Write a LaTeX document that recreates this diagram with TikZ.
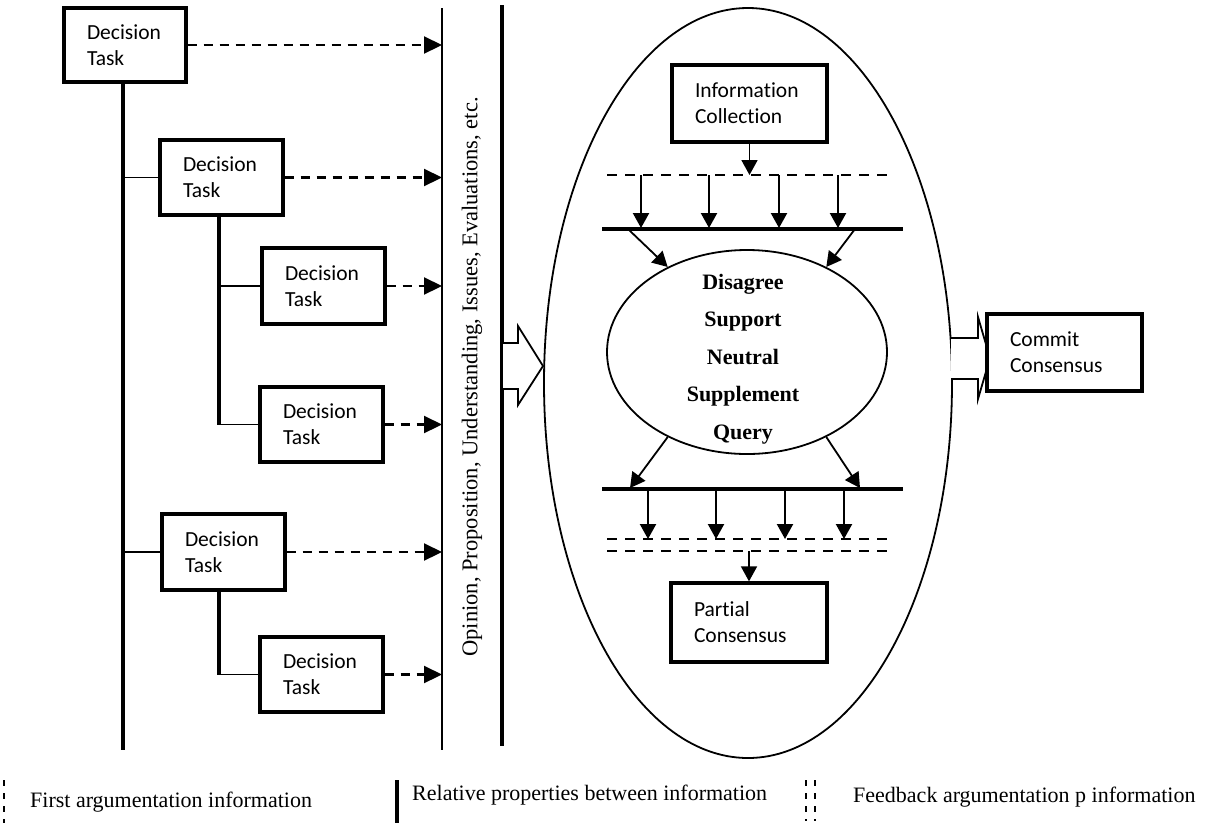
\documentclass[tikz,border=0pt]{standalone}
\usepackage{fontspec}
\setmainfont{Liberation Serif}
\newfontfamily\calib[Ligatures={NoCommon,NoRequired,NoContextual}]{Carlito}
\usetikzlibrary{arrows.meta,shapes.geometric}
\begin{document}
\begin{tikzpicture}[x=1pt,y=-1pt,
  box/.style={draw,line width=3.3pt,fill=white,inner xsep=23pt,inner ysep=0pt,
    align=left,text width=#1-46pt,minimum width=#1,
    font=\calib\fontsize{21.5}{26}\selectfont},
  box/.default=122pt,
  tree/.style={line width=3.3pt},
  branch/.style={line width=1.6pt},
  dasharrow/.style={line width=2.2pt,dash pattern=on 9pt off 7pt,
    -{Triangle[length=18pt,width=17pt]}},
  vline/.style={line width=3.3pt},
  dline/.style={line width=2.2pt,dash pattern=on 10pt off 8pt},
  sline/.style={line width=3.8pt},
  darr/.style={line width=2.2pt,-{Triangle[length=15pt,width=16pt]}},
  thinarr/.style={line width=1.8pt,-{Triangle[length=15pt,width=16pt]}},
  legend/.style={anchor=base west,inner sep=0pt,font=\fontsize{22}{26}\selectfont},
]
\useasboundingbox (0,0) rectangle (1205,823);

% ---- decision task tree ----
\node[box,minimum height=74pt] (B1) at (125,45) {Decision\\Task};
\node[box=123pt,minimum height=75pt] (B2) at (221.5,177.5) {Decision\\Task};
\node[box=123pt,minimum height=76pt] (B3) at (323.5,286) {Decision\\Task};
\node[box=123pt,minimum height=75pt] (B4) at (321.5,424.5) {Decision\\Task};
\node[box=123pt,minimum height=76pt] (B5) at (223.5,552) {Decision\\Task};
\node[box=123pt,minimum height=75pt] (B6) at (321.5,674.5) {Decision\\Task};

\coordinate (spineEnd) at (123,750);
\draw[tree] (B1.south -| spineEnd) -- (spineEnd);
\draw[branch] (B2.west -| spineEnd) -- (B2.west);
\draw[branch] (B5.west -| spineEnd) -- (B5.west);

\coordinate (sub2) at (219,424.5);
\draw[tree] (B2.south -| sub2) -- (sub2);
\draw[branch] (B3.west -| sub2) -- (B3.west);
\draw[branch] (sub2) -- (B4.west);

\coordinate (sub5) at (219,674.5);
\draw[tree] (B5.south -| sub5) -- (sub5);
\draw[branch] (sub5) -- (B6.west);

% ---- two vertical lines ----
\coordinate (L1top) at (442,8);
\coordinate (L1bot) at (442,750);
\coordinate (L2top) at (502,5);
\coordinate (L2bot) at (502,746);
\draw[line width=2.8pt] (L1top) -- (L1bot);
\draw[vline] (L2top) -- (L2bot);

\foreach \b in {B1,B2,B3,B4,B5,B6}
  \draw[dasharrow] (\b.east) -- (\b.east -| L1top);

\node[rotate=90,inner sep=0pt,font=\fontsize{22.5}{27}\selectfont] (opinion) at (472,377)
  {Opinion, Proposition, Understanding, Issues, Evaluations, etc.};

% ---- block arrow into big ellipse ----
\draw[line width=1.8pt,fill=white,line join=miter]
  (503,343) -- (518,343) -- (518,326) -- (543,366) -- (518,405) -- (518,389) -- (503,389);

% ---- big ellipse ----
\node[ellipse,draw,line width=1.8pt,minimum width=408pt,minimum height=750pt,inner sep=0pt] (E) at (748,383) {};

% ---- block arrow out to commit ----
\draw[line width=1.8pt,fill=white,line join=miter]
  (951,338) -- (978,338) -- (978,317) -- (990,358) -- (978,399) -- (978,379) -- (951,379);
\node[box=155pt,minimum height=77pt] (commit) at (1064.5,352.5) {Commit\\Consensus};

% ---- inside ellipse ----
\node[box=155pt,minimum height=77pt] (info) at (749.5,103.5) {Information\\Collection};

\coordinate (D1l) at (607,175);
\coordinate (D1r) at (893,175);
\draw[dline] (D1l) -- (D1r);
\draw[thinarr] (info.south) -- (info.south |- D1l);

\coordinate (S1l) at (602,229);
\coordinate (S1r) at (903,229);
\draw[sline] (S1l) -- (S1r);
\foreach \x in {641,709,779,838}
  \draw[darr] (\x,175) -- (\x,228);

\node[ellipse,draw,line width=1.8pt,minimum width=280pt,minimum height=204pt,inner sep=0pt] (IE) at (747,352) {};
\node[align=center,inner sep=0pt,font=\bfseries\fontsize{22}{37.5}\selectfont] (IEtxt) at (743,359)
  {Disagree\\Support\\Neutral\\Supplement\\Query};

\coordinate (S1a) at (628,229);
\coordinate (S1b) at (855,229);
\draw[thinarr] (S1a) -- (IE.133);
\draw[thinarr] (S1b) -- (IE.47);

\coordinate (S2l) at (602,489);
\coordinate (S2r) at (903,489);
\coordinate (S2a) at (630,488);
\coordinate (S2b) at (860,488);
\draw[sline] (S2l) -- (S2r);
\draw[thinarr] (IE.227) -- (S2a);
\draw[thinarr] (IE.313) -- (S2b);

\coordinate (D2l) at (607,539);
\coordinate (D2r) at (892,539);
\coordinate (D3l) at (607,551);
\coordinate (D3r) at (892,551);
\draw[dline] (D2l) -- (D2r);
\draw[dline] (D3l) -- (D3r);
\foreach \x in {648,716,785,844}
  \draw[darr] (\x,490) -- (\x,539);

\node[box=156pt,minimum height=79pt] (partial) at (749,622.5) {Partial\\Consensus};
\draw[thinarr] (partial.north |- D3l) -- (partial.north);

% ---- legend ----
\coordinate (lg1t) at (4,780);
\coordinate (lg1b) at (4,823);
\draw[line width=1.6pt,dash pattern=on 6pt off 7pt] (lg1t) -- (lg1b);
\node[legend] (lgt1) at (30,807) {First argumentation information};

\coordinate (lg2t) at (397,780);
\coordinate (lg2b) at (397,823);
\draw[line width=4pt] (lg2t) -- (lg2b);
\node[legend] (lgt2) at (412,800) {Relative properties between information};

\coordinate (lg3t) at (806,780);
\coordinate (lg3b) at (806,821);
\coordinate (lg4t) at (815,780);
\coordinate (lg4b) at (815,821);
\draw[line width=1.6pt,dash pattern=on 6pt off 7pt] (lg3t) -- (lg3b);
\draw[line width=1.6pt,dash pattern=on 6pt off 7pt] (lg4t) -- (lg4b);
\node[legend] (lgt3) at (853,802) {Feedback argumentation p information};
\end{tikzpicture}
\end{document}
